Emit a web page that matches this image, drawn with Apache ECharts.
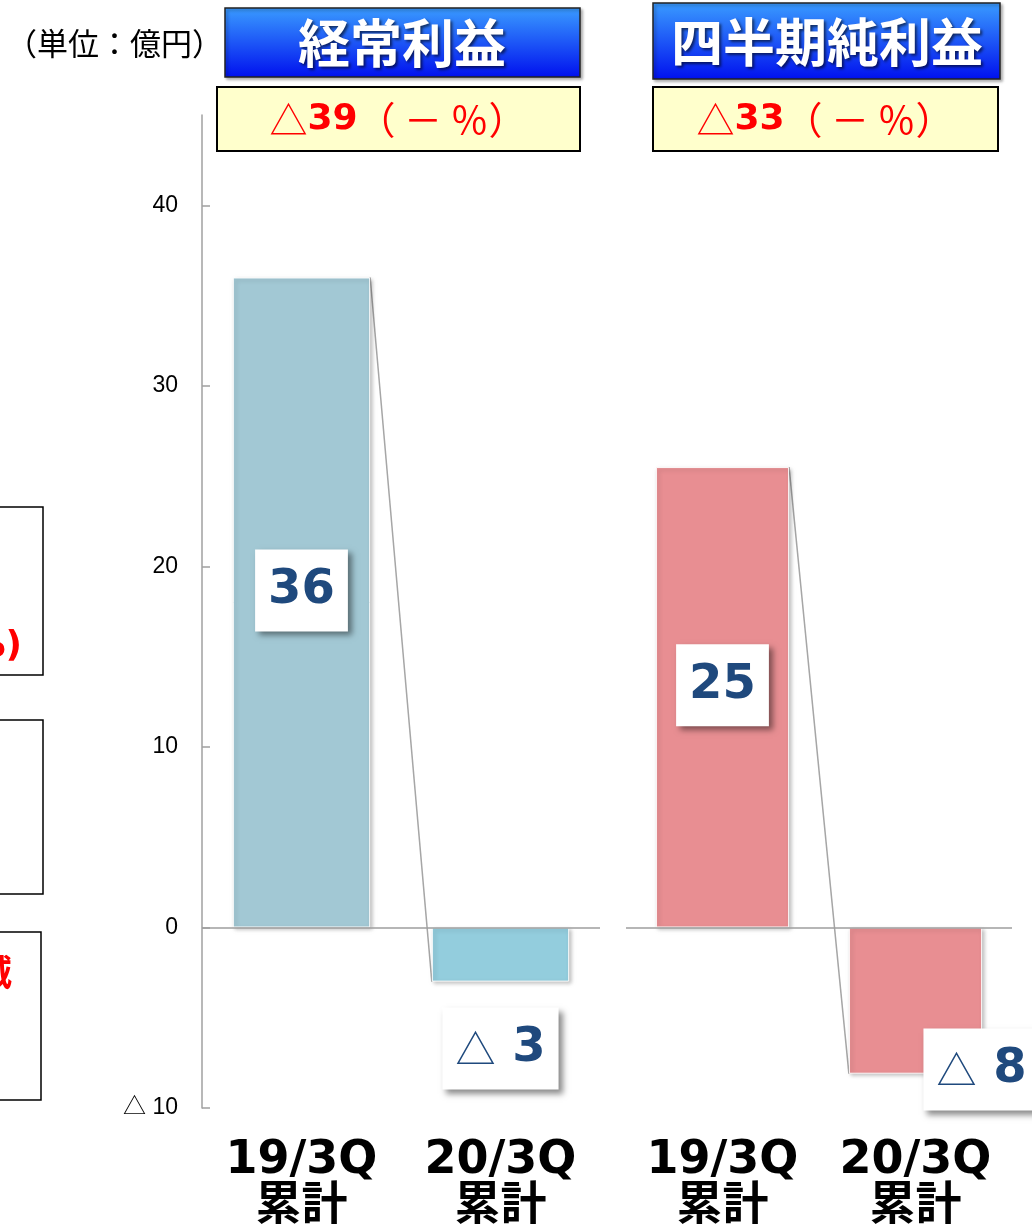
<!DOCTYPE html>
<html>
<head>
<meta charset="utf-8" />
<script src="https://cdn.jsdelivr.net/npm/echarts@6/dist/echarts.min.js"></script>
<style>
  html, body { margin: 0; padding: 0; background: #fff; }
  #chart { width: 1032px; height: 1227px; }
</style>
</head>
<body>
<div id="chart"></div>
<script>
// data (億円)
const categories = ["19/3Q\n累計", "20/3Q\n累計"];
const ordinaryValues = [36, -3];
const netValues = [25.5, -8.1];
const ordinaryLabels = ["36", "△ 3"];
const netLabels = ["25", "△ 8"];
const yTicks = [-10, 0, 10, 20, 30, 40];

const NUM_FONT = "'DejaVu Sans', 'Liberation Sans', sans-serif";
const JP_FONT = "'Noto Sans CJK JP', sans-serif";
const AXIS_GRAY = "#a0a0a0";

const chart = echarts.init(document.getElementById("chart"));

// label box shown on each bar
function valueLabel(texts) {
  return {
    show: true,
    position: "inside",
    formatter: (p) => {
      const t = texts[p.dataIndex];
      if (t.indexOf("△") === 0) {
        return "{tri|△}{num|" + t.slice(1) + "}";
      }
      return "{num|" + t + "}";
    },
    backgroundColor: "#fff",
    padding: [13, 13],
    shadowColor: "rgba(0,0,0,0.45)",
    shadowBlur: 6,
    shadowOffsetX: 4,
    shadowOffsetY: 4,
    rich: {
      tri: { fontFamily: JP_FONT, fontSize: 40, color: "#1F497D", lineHeight: 56 },
      num: { fontFamily: NUM_FONT, fontSize: 48, fontWeight: "bold", color: "#1F497D", lineHeight: 56 },
    },
  };
}

// thin connector from top-right of the first bar to the bottom-left of the second
function connectorSeries(idx, values) {
  return {
    type: "custom",
    xAxisIndex: idx,
    yAxisIndex: idx,
    silent: true,
    z: 1,
    data: [[0, values[0], 1, values[1]]],
    encode: { x: 0, y: 1 },
    renderItem: (params, api) => {
      const band = api.size([1, 0])[0];
      const hw = band * 0.345;
      const p0 = api.coord([api.value(0), api.value(1)]);
      const p1 = api.coord([api.value(2), api.value(3)]);
      return {
        type: "line",
        shape: { x1: p0[0] + hw, y1: p0[1], x2: p1[0] - hw, y2: p1[1] },
        style: { stroke: "#a6a6a6", lineWidth: 1.5 },
      };
    },
  };
}

function barSeries(idx, values, colors, texts, offsets) {
  return {
    type: "bar",
    xAxisIndex: idx,
    yAxisIndex: idx,
    barWidth: "69%",
    z: 2,
    data: values.map((v, i) => ({
      value: v,
      itemStyle: { color: colors[i] },
      label: Object.assign(valueLabel(texts), { offset: offsets[i] }),
    })),
    itemStyle: {
      borderColor: "rgba(255,255,255,0.9)",
      borderWidth: 1,
      shadowColor: "rgba(0,0,0,0.25)",
      shadowBlur: 4,
      shadowOffsetX: 2,
      shadowOffsetY: 2,
    },
    markLine: {
      silent: true,
      symbol: "none",
      label: { show: false },
      lineStyle: { color: "#9e9e9e", width: 1.5, type: "solid" },
      data: [{ yAxis: 0 }],
      z: 3,
    },
  };
}

const xAxisBase = {
  type: "category",
  data: categories,
  position: "bottom",
  axisLine: { show: false },
  axisTick: { show: false },
  axisLabel: {
    interval: 0,
    margin: 30,
    fontFamily: NUM_FONT + ", " + JP_FONT,
    fontSize: 46,
    fontWeight: "bold",
    lineHeight: 46,
    color: "#000",
  },
};

const yAxisBase = {
  type: "value",
  min: -10,
  max: 45,
  interval: 10,
  splitLine: { show: false },
};

const blueFill = () =>
  new echarts.graphic.LinearGradient(0, 0, 0, 1, [
    { offset: 0, color: "#3A9CFF" },
    { offset: 1, color: "#0010EE" },
  ]);

chart.setOption({
  animation: false,
  grid: [
    { left: 202, width: 398, top: 115, height: 993, outerBoundsMode: "none" },
    { left: 626, width: 386, top: 115, height: 993, outerBoundsMode: "none" },
  ],
  xAxis: [
    Object.assign({ gridIndex: 0 }, xAxisBase),
    Object.assign({ gridIndex: 1 }, xAxisBase),
  ],
  yAxis: [
    Object.assign({}, yAxisBase, {
      gridIndex: 0,
      axisLine: { show: true, lineStyle: { color: AXIS_GRAY, width: 1.5 } },
      axisTick: {
        show: true,
        inside: true,
        length: 8,
        customValues: yTicks,
        lineStyle: { color: AXIS_GRAY, width: 1.5 },
      },
      axisLabel: {
        customValues: yTicks,
        margin: 24,
        fontSize: 23,
        color: "#000",
        fontFamily: "'Liberation Sans', " + JP_FONT,
        formatter: (v) => (v < 0 ? "△ " + Math.abs(v) : String(v)),
      },
    }),
    Object.assign({}, yAxisBase, {
      gridIndex: 1,
      axisLine: { show: false },
      axisTick: { show: false },
      axisLabel: { show: false },
    }),
  ],
  series: [
    connectorSeries(0, ordinaryValues),
    barSeries(0, ordinaryValues, ["#A2C8D4", "#93CDDD"], ordinaryLabels, [[0, -12], [0, 94]]),
    connectorSeries(1, netValues),
    barSeries(1, netValues, ["#E88E92", "#E88E92"], netLabels, [[0, -12], [66, 69]]),
  ],
  graphic: [
    // unit note
    {
      type: "text",
      x: 6,
      y: 43,
      style: {
        text: "（単位：億円）",
        font: "31px " + JP_FONT,
        fill: "#000",
        verticalAlign: "middle",
      },
    },
    // title boxes
    {
      type: "rect",
      shape: { x: 225, y: 8, width: 355, height: 69 },
      style: {
        fill: blueFill(),
        stroke: "#222",
        lineWidth: 1.5,
        shadowColor: "rgba(0,0,0,0.3)",
        shadowBlur: 3,
        shadowOffsetX: 2,
        shadowOffsetY: 2,
      },
    },
    {
      type: "text",
      x: 402,
      y: 43,
      style: {
        text: "経常利益",
        font: "bold 52px " + JP_FONT,
        fill: "#fff",
        align: "center",
        verticalAlign: "middle",
        textShadowColor: "rgba(0,0,0,0.6)",
        textShadowBlur: 3,
        textShadowOffsetX: 2,
        textShadowOffsetY: 2,
      },
    },
    {
      type: "rect",
      shape: { x: 653, y: 3, width: 347, height: 76 },
      style: {
        fill: blueFill(),
        stroke: "#222",
        lineWidth: 1.5,
        shadowColor: "rgba(0,0,0,0.3)",
        shadowBlur: 3,
        shadowOffsetX: 2,
        shadowOffsetY: 2,
      },
    },
    {
      type: "text",
      x: 827,
      y: 42,
      style: {
        text: "四半期純利益",
        font: "bold 52px " + JP_FONT,
        fill: "#fff",
        align: "center",
        verticalAlign: "middle",
        textShadowColor: "rgba(0,0,0,0.6)",
        textShadowBlur: 3,
        textShadowOffsetX: 2,
        textShadowOffsetY: 2,
      },
    },
    // change boxes
    {
      type: "rect",
      shape: { x: 217, y: 87, width: 363, height: 64 },
      style: { fill: "#FFFFCC", stroke: "#000", lineWidth: 2 },
    },
    {
      type: "text",
      x: 398,
      y: 120,
      style: {
        text: "{t|△}{n|39}{t|（ － ％）}",
        align: "center",
        verticalAlign: "middle",
        rich: {
          t: { fontFamily: JP_FONT, fontSize: 38, fill: "#FF0000" },
          n: { fontFamily: NUM_FONT, fontSize: 36, fontWeight: "bold", fill: "#FF0000" },
        },
      },
    },
    {
      type: "rect",
      shape: { x: 653, y: 87, width: 345, height: 64 },
      style: { fill: "#FFFFCC", stroke: "#000", lineWidth: 2 },
    },
    {
      type: "text",
      x: 825,
      y: 120,
      style: {
        text: "{t|△}{n|33}{t|（ － ％）}",
        align: "center",
        verticalAlign: "middle",
        rich: {
          t: { fontFamily: JP_FONT, fontSize: 38, fill: "#FF0000" },
          n: { fontFamily: NUM_FONT, fontSize: 36, fontWeight: "bold", fill: "#FF0000" },
        },
      },
    },
    // partial boxes cut off at the left edge of the slide
    {
      type: "rect",
      shape: { x: -10, y: 507, width: 53, height: 168 },
      style: { fill: "none", stroke: "#000", lineWidth: 1.5 },
    },
    {
      type: "text",
      x: 22,
      y: 647,
      style: {
        text: "%)",
        font: "bold 36px " + NUM_FONT,
        fill: "#FF0000",
        align: "right",
        verticalAlign: "middle",
      },
    },
    {
      type: "rect",
      shape: { x: -10, y: 720, width: 53, height: 174 },
      style: { fill: "none", stroke: "#000", lineWidth: 1.5 },
    },
    {
      type: "rect",
      shape: { x: -10, y: 932, width: 51, height: 168 },
      style: { fill: "none", stroke: "#000", lineWidth: 1.5 },
    },
    {
      type: "text",
      x: 12,
      y: 972,
      style: {
        text: "増減",
        font: "bold 36px " + JP_FONT,
        fill: "#FF0000",
        align: "right",
        verticalAlign: "middle",
      },
    },
  ],
});
</script>
</body>
</html>
